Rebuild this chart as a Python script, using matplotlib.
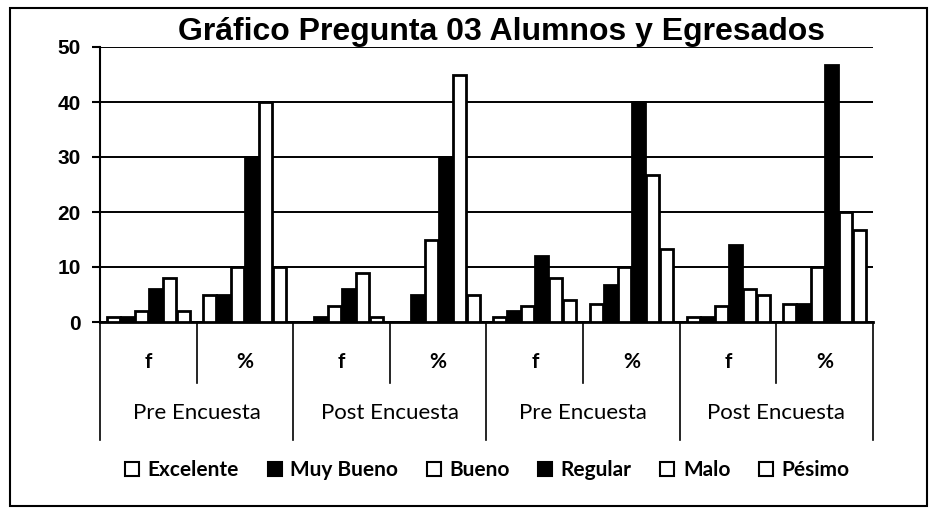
import matplotlib
matplotlib.use("Agg")
import matplotlib.pyplot as plt
from matplotlib.lines import Line2D
from matplotlib.patches import Rectangle
import numpy as np

categories = ["f", "%", "f", "%", "f", "%", "f", "%"]
groups = ["Pre Encuesta", "Post Encuesta", "Pre Encuesta", "Post Encuesta"]
series = ["Excelente", "Muy Bueno", "Bueno", "Regular", "Malo", "Pésimo"]
excelente = [1, 5, 0, 0, 1, 3.3, 1, 3.3]
muy_bueno = [1, 5, 1, 5, 2, 6.7, 1, 3.3]
bueno = [2, 10, 3, 15, 3, 10, 3, 10]
regular = [6, 30, 6, 30, 12, 40, 14, 46.7]
malo = [8, 40, 9, 45, 8, 26.7, 6, 20]
pesimo = [2, 10, 1, 5, 4, 13.3, 5, 16.7]
yticks = [0, 10, 20, 30, 40, 50]

values = [excelente, muy_bueno, bueno, regular, malo, pesimo]
fills = ["white", "black", "white", "black", "white", "white"]

W, H = 937, 516
fig = plt.figure(figsize=(W / 100, H / 100), dpi=100)
fig.patch.set_facecolor("white")

x0, x1 = 100, 873
y0, y1 = 322, 47
ax = fig.add_axes([x0 / W, 1 - y0 / H, (x1 - x0) / W, (y0 - y1) / H])
ax.set_xlim(-0.5, len(categories) - 0.5)
ax.set_ylim(0, 50)
ax.set_facecolor("none")

xs = np.arange(len(categories))
step = 0.145
width = 0.135
for i, (vals, fc) in enumerate(zip(values, fills)):
    offs = (i - 2.5) * step
    ax.bar(xs + offs, vals, width=width, color=fc, edgecolor="black",
           linewidth=2.0, zorder=3)

ax.set_yticks(yticks)
ax.set_yticklabels([str(t) for t in yticks], fontsize=15, fontweight="bold",
                   family="Liberation Sans")
ax.yaxis.grid(True, color="black", linewidth=1.4, zorder=0)
ax.set_axisbelow(True)
ax.tick_params(axis="y", length=6, width=1.5, direction="out", pad=8)
ax.set_xticks([])
for s in ["top", "right"]:
    ax.spines[s].set_visible(False)
ax.spines["left"].set_linewidth(1.5)
ax.spines["bottom"].set_linewidth(2)

tr = ax.get_xaxis_transform()
# category labels
for i, c in enumerate(categories):
    ax.text(i, -0.145, c, transform=tr, ha="center", va="center",
            fontsize=15, fontweight="bold", family="Lato")
# group labels
for g, name in enumerate(groups):
    ax.text(2 * g + 0.5, -0.33, name, transform=tr, ha="center", va="center",
            fontsize=16, family="Lato")
# separators
for b in range(len(categories) + 1):
    xb = b - 0.5
    ybot = -0.43 if b % 2 == 0 else -0.22
    ax.plot([xb, xb], [0, ybot], transform=tr, color="black", lw=1.2,
            clip_on=False)

ax.set_title("Gráfico Pregunta 03 Alumnos y Egresados", fontsize=23,
             fontweight="bold", family="Liberation Sans", pad=-8, x=0.52)

handles = [Line2D([], [], marker="s", linestyle="none", markersize=10,
                  markerfacecolor=fc, markeredgecolor="black",
                  markeredgewidth=1.5) for fc in fills]
fig.legend(handles, series, loc="center", bbox_to_anchor=(0.52, 1 - 470 / H),
           ncol=6, frameon=False, prop={"family": "Lato", "weight": "bold",
                                          "size": 15},
           handlelength=0.7, handletextpad=0.4, columnspacing=1.35)

fig.patches.append(Rectangle((10 / W, 1 - 506 / H), 917 / W, 498 / H,
                             transform=fig.transFigure, fill=False,
                             edgecolor="black", linewidth=1.5))

fig.savefig("out.png", dpi=100)
